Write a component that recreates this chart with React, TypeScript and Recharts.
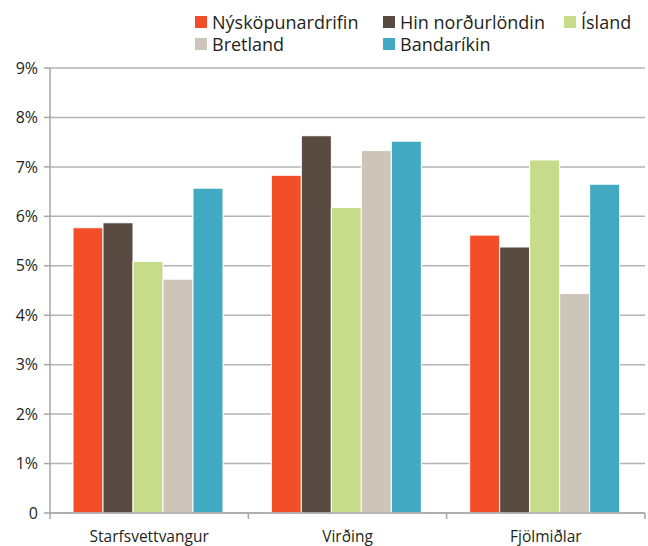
import React from 'react';
import { BarChart, Bar, XAxis, YAxis, CartesianGrid, Legend } from 'recharts';

const categories = ['Starfsvettvangur', 'Virðing', 'Fjölmiðlar'];
const seriesNames = ['Nýsköpunardrifin', 'Hin norðurlöndin', 'Ísland', 'Bretland', 'Bandaríkin'];
const nyskopunardrifin = [5.77, 6.83, 5.62];
const hinNordurlondin = [5.87, 7.63, 5.38];
const island = [5.09, 6.18, 7.14];
const bretland = [4.73, 7.33, 4.44];
const bandarikin = [6.57, 7.52, 6.65];
const yTicks = [0, 1, 2, 3, 4, 5, 6, 7, 8, 9];

const COLORS = ['#f24e29', '#594b41', '#c7dc8b', '#cdc5b9', '#41a9c1'];
const FONT = '"Open Sans", sans-serif';

const seriesValues = [nyskopunardrifin, hinNordurlondin, island, bretland, bandarikin];
const data = categories.map((name, i) => {
  const row: any = { name };
  seriesNames.forEach((s, j) => {
    row[s] = seriesValues[j][i];
  });
  return row;
});

// legend slots
const LEGEND_POS = [
  { left: 195, top: 12 },
  { left: 383, top: 12 },
  { left: 564, top: 12 },
  { left: 195, top: 34 },
  { left: 383, top: 34 },
];

const renderLegend = () => (
  <div style={{ position: 'relative', width: 648, height: 60 }}>
    {seriesNames.map((s, i) => (
      <div
        key={s}
        style={{
          position: 'absolute',
          left: LEGEND_POS[i].left,
          top: LEGEND_POS[i].top,
          display: 'flex',
          alignItems: 'center',
          fontFamily: FONT,
          fontSize: 18,
          fontWeight: 500,
          lineHeight: '20px',
          color: '#231f20',
          whiteSpace: 'nowrap',
        }}
      >
        <span style={{ width: 12, height: 12, background: COLORS[i], marginRight: 5, display: 'inline-block' }} />
        {s}
      </div>
    ))}
  </div>
);

const XTick = (props: any) => {
  const { x, y, payload, index } = props;
  const off = payload.offset ?? 99.25;
  return (
    <g>
      <line x1={x - off} x2={x - off} y1={y} y2={y + 6} stroke="#a6a6a6" strokeWidth={1.5} />
      {index === categories.length - 1 && (
        <line x1={x + off} x2={x + off} y1={y} y2={y + 6} stroke="#a6a6a6" strokeWidth={1.5} />
      )}
      <text x={x} y={y + 29} textAnchor="middle" fontFamily={FONT} fontSize={15.5} fontWeight={500} fill="#231f20">
        {payload.value}
      </text>
    </g>
  );
};

export default function App() {
  return (
    <div style={{ position: 'absolute', left: 0, top: 0, width: 648, height: 546, background: '#fff' }}>
      <BarChart
        width={648}
        height={546}
        data={data}
        margin={{ top: 8, right: 3, bottom: 0, left: 0 }}
        barCategoryGap={23}
        barGap={0}
      >
        <CartesianGrid vertical={false} stroke="#b3b3b3" strokeWidth={1.5} />
        <XAxis
          dataKey="name"
          height={33}
          axisLine={{ stroke: '#a6a6a6', strokeWidth: 1.5 }}
          tickLine={false}
          tickSize={0}
          tickMargin={0}
          tick={<XTick />}
        />
        <YAxis
          width={50}
          domain={[0, 9]}
          ticks={yTicks}
          interval={0}
          axisLine={{ stroke: '#a6a6a6', strokeWidth: 1.5 }}
          tickLine={{ stroke: '#a6a6a6', strokeWidth: 1.5 }}
          tickSize={6}
          tickMargin={6}
          tickFormatter={(v: number) => (v === 0 ? '0' : `${v}%`)}
          tick={{ fontFamily: FONT, fontSize: 16, fontWeight: 500, fill: '#231f20' }}
        />
        <Legend verticalAlign="top" align="left" content={renderLegend} wrapperStyle={{ left: 0, top: 0 }} />
        {seriesNames.map((s, i) => (
          <Bar key={s} dataKey={s} fill={COLORS[i]} stroke="#ffffff" strokeWidth={1} isAnimationActive={false} />
        ))}
      </BarChart>
    </div>
  );
}
